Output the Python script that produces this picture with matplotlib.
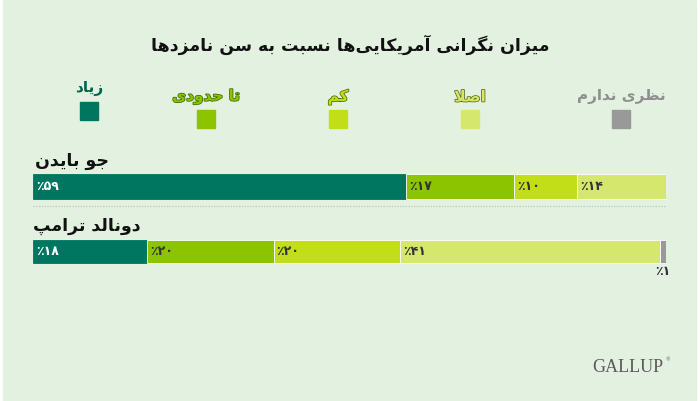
import matplotlib
matplotlib.use("Agg")
import matplotlib.pyplot as plt
import matplotlib.patheffects as pe
import numpy as np

# ---------------- data ----------------
title = "میزان نگرانی آمریکایی‌ها نسبت به سن نامزدها"
categories = ["زیاد", "تا حدودی", "کم", "اصلا", "نظری ندارم"]
candidates = ["جو بایدن", "دونالد ترامپ"]
biden_values = [59, 17, 10, 14, 0]
trump_values = [18, 20, 20, 41, 1]
colors = ["#00755f", "#8cc400", "#c2de19", "#d5e76c", "#999999"]
label_colors = ["#00664f", "#8cc400", "#c2de19", "#d5e76c", "#8f8f8f"]
outline_colors = [None, "#3d6b00", "#4b6b00", "#5a6b10", None]
source = "GALLUP"

# ------------- minimal Persian shaping (presentation forms) -------------
FORMS = {  # iso, fin, ini, med
    "ا": ("\uFE8D", "\uFE8E", None, None),
    "آ": ("\uFE81", "\uFE82", None, None),
    "د": ("\uFEA9", "\uFEAA", None, None),
    "ر": ("\uFEAD", "\uFEAE", None, None),
    "ز": ("\uFEAF", "\uFEB0", None, None),
    "و": ("\uFEED", "\uFEEE", None, None),
    "ب": ("\uFE8F", "\uFE90", "\uFE91", "\uFE92"),
    "پ": ("\uFB56", "\uFB57", "\uFB58", "\uFB59"),
    "ت": ("\uFE95", "\uFE96", "\uFE97", "\uFE98"),
    "ج": ("\uFE9D", "\uFE9E", "\uFE9F", "\uFEA0"),
    "ح": ("\uFEA1", "\uFEA2", "\uFEA3", "\uFEA4"),
    "س": ("\uFEB1", "\uFEB2", "\uFEB3", "\uFEB4"),
    "ص": ("\uFEB9", "\uFEBA", "\uFEBB", "\uFEBC"),
    "ظ": ("\uFEC5", "\uFEC6", "\uFEC7", "\uFEC8"),
    "ک": ("\uFB8E", "\uFB8F", "\uFB90", "\uFB91"),
    "گ": ("\uFB92", "\uFB93", "\uFB94", "\uFB95"),
    "ل": ("\uFEDD", "\uFEDE", "\uFEDF", "\uFEE0"),
    "م": ("\uFEE1", "\uFEE2", "\uFEE3", "\uFEE4"),
    "ن": ("\uFEE5", "\uFEE6", "\uFEE7", "\uFEE8"),
    "ه": ("\uFEE9", "\uFEEA", "\uFEEB", "\uFEEC"),
    "ی": ("\uFBFC", "\uFBFD", "\uFBFE", "\uFBFF"),
}


def dual(c):
    return c in FORMS and FORMS[c][2] is not None


def joins(c):
    return c in FORMS


def shape(text):
    chars = list(text)
    out = []
    i = 0
    n = len(chars)
    while i < n:
        c = chars[i]
        if c == "\u200c":
            i += 1
            continue
        prev = chars[i - 1] if i > 0 else ""
        prev_join = dual(prev)
        if c == "ل" and i + 1 < n and chars[i + 1] == "ا":
            out.append("\uFEFC" if prev_join else "\uFEFB")
            i += 2
            continue
        if c not in FORMS:
            out.append(c)
            i += 1
            continue
        nxt = chars[i + 1] if i + 1 < n else ""
        next_join = dual(c) and joins(nxt)
        iso, fin, ini, med = FORMS[c]
        if prev_join and next_join:
            out.append(med)
        elif prev_join:
            out.append(fin)
        elif next_join:
            out.append(ini)
        else:
            out.append(iso)
        i += 1
    return "".join(out[::-1])


def fa_pct(v):
    digits = "".join(chr(0x06F0 + int(d)) for d in str(v))
    return "\u066A" + digits


# ---------------- figure ----------------
W, H = 700, 401
fig = plt.figure(figsize=(W / 100, H / 100), dpi=100, facecolor="white")
bg = fig.add_axes([0, 0, 1, 1])
bg.set_xlim(0, W)
bg.set_ylim(H, 0)
bg.axis("off")
bg.add_patch(plt.Rectangle((3, 0), 693, H, color="#e3f2e0", zorder=0))

FONT = ["DejaVu Sans"]

# title
bg.text(350, 45, shape(title), ha="center", va="center", fontsize=12.5,
        fontweight="bold", family=FONT, color="#111111")

# legend
leg_x = [89, 206, 338, 470, 621]
for k, (cat, x) in enumerate(zip(categories, leg_x)):
    raised = 8 if k == 0 else 0
    sq_top = 110 - raised
    bg.add_patch(plt.Rectangle((x - 9, sq_top), 18, 18, color=colors[k], zorder=2))
    effects = []
    if outline_colors[k]:
        effects = [pe.withStroke(linewidth=1.1, foreground=outline_colors[k])]
    bg.text(x, 97 - raised, shape(cat), ha="center", va="center", fontsize=11,
            fontweight="bold", family=FONT, color=label_colors[k],
            path_effects=effects)

# candidate names
bg.text(35, 161, shape(candidates[0]), ha="left", va="center", fontsize=12.5,
        fontweight="bold", family=FONT, color="#111111")
bg.text(33, 226, shape(candidates[1]), ha="left", va="center", fontsize=12.5,
        fontweight="bold", family=FONT, color="#111111")

# dotted separator
bg.plot([33, 666], [205.5, 205.5], linestyle=(0, (1, 1)), color="#c4cfc2", lw=1)

# bars axes: x in percent
x0, x1 = 33, 666
y_top, y_bot = 170, 270
ax = fig.add_axes([x0 / W, 1 - y_bot / H, (x1 - x0) / W, (y_bot - y_top) / H])
ax.set_xlim(0, 100)
row_px = 65.0
ax.set_ylim((y_bot - 186.5) / row_px, (y_top - 186.5) / row_px)
ax.axis("off")
ax.patch.set_alpha(0)

px_per_pct = (x1 - x0) / 100.0
rows = [biden_values, trump_values]
heights = [25 / row_px, 23 / row_px]
for r, vals in enumerate(rows):
    left = 0
    for k, v in enumerate(vals):
        if v > 0:
            ax.barh(r, v, left=left, height=heights[r], color=colors[k],
                    edgecolor="white" if k > 0 else colors[k], linewidth=0.6)
            if k < 4:
                ax.text(left + 3 / px_per_pct, r, fa_pct(v), ha="left", va="center",
                        fontsize=9, fontweight="bold",
                        family=FONT, color="white" if k == 0 else "#333333")
            else:
                ax.text(left + v / 2, r + 20 / row_px, fa_pct(v), ha="center",
                        va="center", fontsize=9, fontweight="bold",
                        family=FONT, color="#333333")
        left += v

# source
bg.text(628, 367, source, ha="center", va="center", fontsize=13,
        family=["Liberation Serif"], color="#5a5a5a")
bg.text(665, 360, "®", ha="left", va="center", fontsize=3.5,
        family=["DejaVu Sans"], color="#5a5a5a")

fig.savefig("out.png", dpi=100, facecolor="white")
